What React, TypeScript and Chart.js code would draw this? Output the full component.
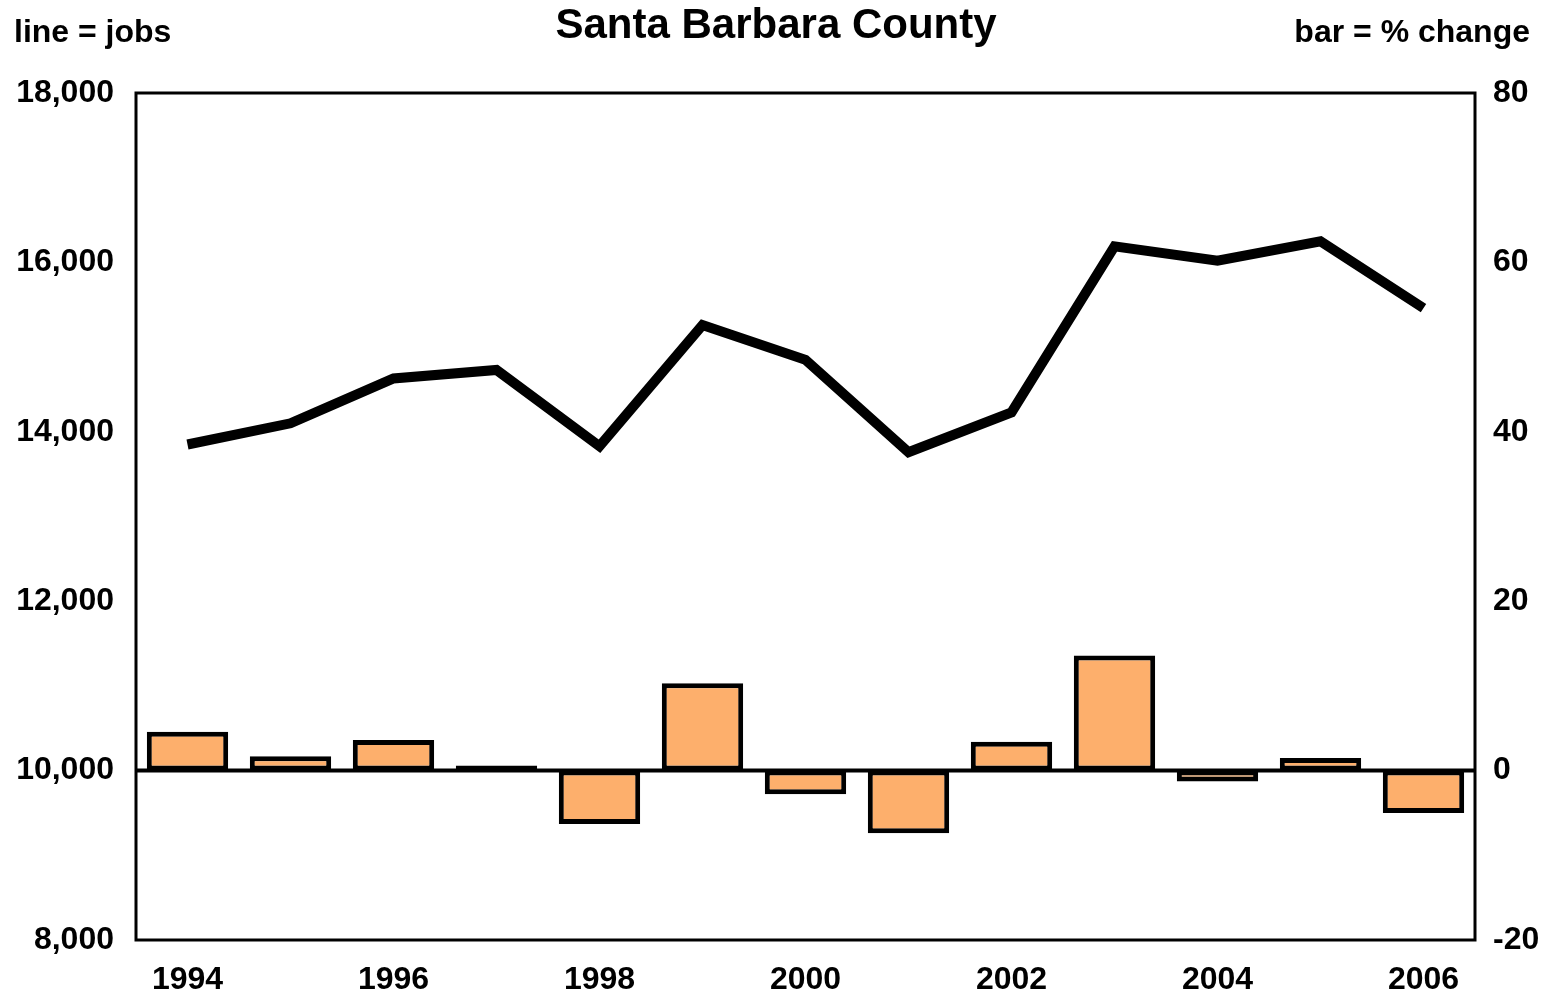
import React, { useEffect, useRef } from "react";
import { Chart, registerables } from "chart.js";

Chart.register(...registerables);

const years = ["1994","1995","1996","1997","1998","1999","2000","2001","2002","2003","2004","2005","2006"];
const jobs = [13850, 14100, 14630, 14730, 13830, 15260, 14850, 13760, 14230, 16190, 16020, 16250, 15460];
const pctChange = [4.6, 1.7, 3.6, 0.6, -6.3, 10.3, -2.8, -7.4, 3.4, 13.6, -1.3, 1.5, -5.0];
const leftTicks = [8000, 10000, 12000, 14000, 16000, 18000];
const rightTicks = [-20, 0, 20, 40, 60, 80];
const titleText = "Santa Barbara County";
const leftNote = "line = jobs";
const rightNote = "bar = % change";

const FONT = "'Liberation Sans', Arial, Helvetica, sans-serif";

export default function App() {
  const ref = useRef<HTMLCanvasElement | null>(null);
  useEffect(() => {
    const canvas = ref.current;
    if (!canvas) return;
    const textPlugin = {
      id: "texts",
      afterDatasetsDraw(chart: any) {
        const ctx = chart.ctx;
        const a = chart.chartArea;
        const y0 = chart.scales.y1.getPixelForValue(0);
        ctx.save();
        ctx.strokeStyle = "#000";
        ctx.lineWidth = 4;
        ctx.beginPath();
        ctx.moveTo(a.left, y0);
        ctx.lineTo(a.right, y0);
        ctx.stroke();
        ctx.restore();
      },
      afterDraw(chart: any) {
        const ctx = chart.ctx;
        ctx.save();
        ctx.fillStyle = "#000";
        ctx.textBaseline = "middle";
        ctx.font = `bold 42px ${FONT}`;
        ctx.textAlign = "center";
        ctx.fillText(titleText, 776, 26);
        ctx.font = `bold 32px ${FONT}`;
        ctx.textAlign = "left";
        ctx.fillText(leftNote, 14, 33);
        ctx.textAlign = "right";
        ctx.fillText(rightNote, 1530, 33);
        const a = chart.chartArea;
        ctx.strokeStyle = "#000";
        ctx.lineWidth = 3;
        ctx.strokeRect(a.left, a.top, a.right - a.left, a.bottom - a.top);
        ctx.restore();
      },
    };
    const chart = new Chart(canvas, {
      type: "bar",
      data: {
        labels: years,
        datasets: [
          {
            type: "line",
            label: "jobs",
            data: jobs,
            yAxisID: "y",
            borderColor: "#000",
            borderWidth: 10,
            borderJoinStyle: "miter",
            borderCapStyle: "butt",
            pointRadius: 0,
            tension: 0,
            fill: false,
            order: 0,
          } as any,
          {
            type: "bar",
            label: "% change",
            data: pctChange,
            yAxisID: "y1",
            backgroundColor: "#FDAF6C",
            borderColor: "#000",
            borderWidth: 5,
            borderSkipped: false,
            barPercentage: 0.79,
            categoryPercentage: 1,
            order: 1,
          } as any,
        ],
      },
      options: {
        responsive: false,
        animation: false,
        layout: { padding: { left: 0, right: 0, top: 93, bottom: 0 } },
        plugins: { legend: { display: false }, tooltip: { enabled: false }, title: { display: false } },
        scales: {
          x: {
            offset: true,
            grid: { display: false, drawTicks: false },
            border: { display: false },
            ticks: {
              autoSkip: false,
              maxRotation: 0,
              padding: 21,
              color: "#000",
              font: { family: FONT, size: 32, weight: "bold" },
              callback: (_v: any, i: number) => (i % 2 === 0 ? years[i] : ""),
            },
            afterFit: (axis: any) => { axis.height = 55; },
          },
          y: {
            position: "left",
            min: 8000,
            max: 18000,
            grid: { display: false, drawTicks: false },
            border: { display: false },
            afterBuildTicks: (axis: any) => { axis.ticks = leftTicks.map((v) => ({ value: v })); },
            ticks: {
              padding: 22,
              color: "#000",
              font: { family: FONT, size: 32, weight: "bold" },
              callback: (v: any) => Number(v).toLocaleString("en-US"),
            },
            afterFit: (axis: any) => { axis.width = 136; },
          },
          y1: {
            position: "right",
            min: -20,
            max: 80,
            border: { display: false },
            grid: { display: false, drawTicks: false },
            afterBuildTicks: (axis: any) => { axis.ticks = rightTicks.map((v) => ({ value: v })); },
            ticks: {
              padding: 18,
              color: "#000",
              font: { family: FONT, size: 32, weight: "bold" },
            },
            afterFit: (axis: any) => { axis.width = 74; },
          },
        },
      },
      plugins: [textPlugin],
    });
    return () => chart.destroy();
  }, []);
  return (
    <div style={{ position: "absolute", left: 0, top: 0, width: 1549, height: 995 }}>
      <canvas ref={ref} width={1549} height={995} />
    </div>
  );
}
